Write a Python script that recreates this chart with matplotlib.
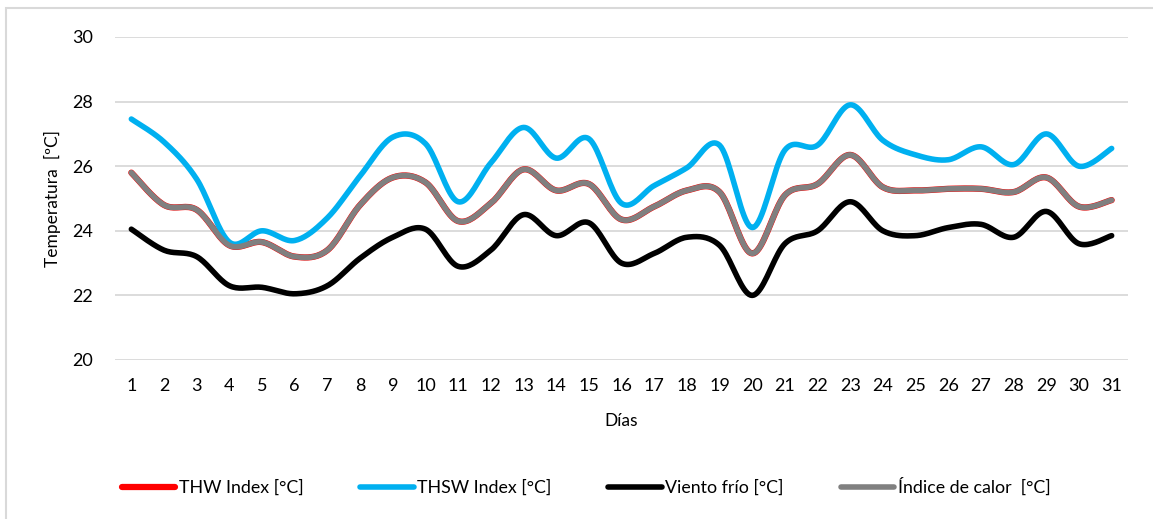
# Grafico de temperaturas diarias (THW, THSW, viento frio, indice de calor).
import numpy as np
import matplotlib
matplotlib.use('Agg')
from matplotlib import pyplot as plt
from matplotlib.patches import Rectangle

plt.rcParams['font.family'] = ['Lato', 'DejaVu Sans']

# Datos.
dias = list(range(1, 32))
thsw = [27.46, 26.75, 25.6, 23.65, 24.0, 23.7, 24.4, 25.7, 26.9, 26.7,
        24.9, 26.1, 27.2, 26.25, 26.85, 24.85, 25.4, 25.95, 26.65, 24.1,
        26.5, 26.65, 27.9, 26.8, 26.35, 26.2, 26.6, 26.05, 27.0, 26.0, 26.55]
indice_calor = [25.8, 24.8, 24.65, 23.55, 23.65, 23.2, 23.4, 24.8, 25.65, 25.5,
                24.3, 24.85, 25.9, 25.25, 25.45, 24.35, 24.75, 25.25, 25.2, 23.3,
                25.1, 25.45, 26.35, 25.35, 25.25, 25.3, 25.3, 25.2, 25.65, 24.75, 24.95]
thw = list(indice_calor)
viento_frio = [24.05, 23.4, 23.2, 22.3, 22.25, 22.05, 22.3, 23.15, 23.8, 24.05,
               22.9, 23.4, 24.5, 23.85, 24.25, 23.0, 23.3, 23.8, 23.55, 22.0,
               23.6, 24.0, 24.9, 24.0, 23.85, 24.1, 24.2, 23.8, 24.6, 23.6, 23.85]


# Curva suavizada tipo Excel (Catmull-Rom entre los puntos).
def suavizar(x, y, n=20):
    x = np.asarray(x, float)
    y = np.asarray(y, float)
    px = np.concatenate([[x[0]], x, [x[-1]]])
    py = np.concatenate([[y[0]], y, [y[-1]]])
    xs, ys = [], []
    t = np.linspace(0, 1, n, endpoint=False)
    for i in range(1, len(px) - 2):
        p0x, p1x, p2x, p3x = px[i - 1], px[i], px[i + 1], px[i + 2]
        p0y, p1y, p2y, p3y = py[i - 1], py[i], py[i + 1], py[i + 2]
        for p0, p1, p2, p3, out in ((p0x, p1x, p2x, p3x, xs), (p0y, p1y, p2y, p3y, ys)):
            out.extend(0.5 * ((2 * p1) + (-p0 + p2) * t
                              + (2 * p0 - 5 * p1 + 4 * p2 - p3) * t ** 2
                              + (-p0 + 3 * p1 - 3 * p2 + p3) * t ** 3))
    xs.append(x[-1])
    ys.append(y[-1])
    return np.array(xs), np.array(ys)


fig = plt.figure(figsize=(11.53, 5.19), dpi=100)
fig.patches.append(Rectangle((6 / 1153, -0.1), 1.2, (519 - 8) / 519 + 0.1,
                             transform=fig.transFigure, fill=False,
                             edgecolor='#d9d9d9', linewidth=1.5))
ax = fig.add_axes([115 / 1153, 1 - 360 / 519, (1128 - 115) / 1153, (360 - 37) / 519])

series = [
    (thw, '#ff0000', 4.5, 'THW Index [°C]'),
    (thsw, '#00b0f0', 4.0, 'THSW Index [°C]'),
    (viento_frio, '#000000', 4.0, 'Viento frío [°C]'),
    (indice_calor, '#808080', 4.0, 'Índice de calor  [°C]'),
]
for valores, color, ancho, nombre in series:
    sx, sy = suavizar(dias, valores)
    ax.plot(sx, sy, color=color, linewidth=ancho, label=nombre,
            solid_capstyle='round', solid_joinstyle='round')

ax.set_xlim(0.5, 31.5)
ax.set_ylim(20, 30)
ax.set_yticks(range(20, 31, 2))
ax.set_xticks(dias)
ax.grid(axis='y', color='#d9d9d9', linewidth=1.3)
ax.set_axisbelow(True)
for s in ax.spines.values():
    s.set_visible(False)
ax.tick_params(length=0, labelsize=13, colors='#000000')
ax.tick_params(axis='y', pad=16)
ax.tick_params(axis='x', pad=13)
ax.set_xlabel('Días', fontsize=12.5, labelpad=14)
ax.set_ylabel('Temperatura  [ºC]', fontsize=12.5, labelpad=8)

leg = fig.legend(loc='center', bbox_to_anchor=(586 / 1153, 1 - 487 / 519), ncol=4,
                 frameon=False, fontsize=12.8, handlelength=3.0,
                 handletextpad=0.2, columnspacing=3.2)

fig.savefig('out.png', dpi=100)
